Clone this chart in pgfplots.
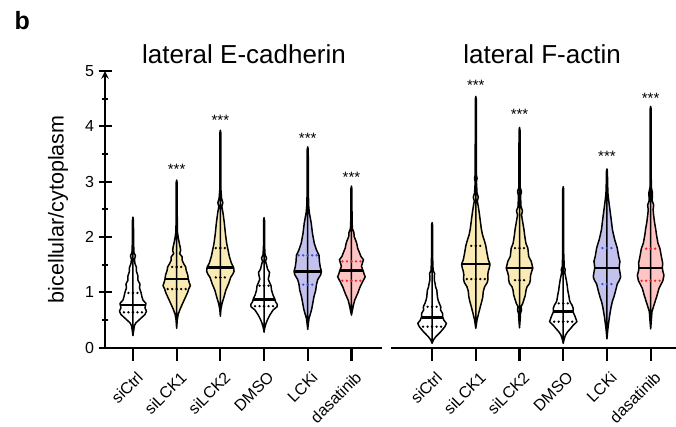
\documentclass[border=0pt]{standalone}
\usepackage{pgfplots}
\pgfplotsset{compat=1.18}
\usepackage{pgfplotstable}
\usepgfplotslibrary{fillbetween}
\usepackage{fontspec}
\setmainfont{Liberation Sans}
\definecolor{vyel}{HTML}{FAEBB4}
\definecolor{vlav}{HTML}{C2C2EC}
\definecolor{vpink}{HTML}{FFC4C4}
\definecolor{dblue}{HTML}{3A4FD0}
\definecolor{dred}{HTML}{E82828}

% ---- left panel: lateral E-cadherin (v = value, w = half width in px)
\pgfplotstableread{
v w
0.22 0
0.30 0.6
0.40 1.5
0.45 3
0.50 6
0.55 9
0.60 12
0.66 13.5
0.72 12
0.76 12.5
0.80 13
0.86 10
0.92 9
1.00 8
1.08 6.5
1.15 7
1.22 5
1.30 5
1.38 3.5
1.45 3.5
1.52 2
1.60 1.5
1.66 2.5
1.72 1
1.90 0.6
2.30 0.5
2.36 0
}\LA
\pgfplotstableread{
v w
0.35 0
0.50 0.6
0.60 1.5
0.70 3.5
0.80 6
0.90 8.5
1.00 11
1.06 12
1.12 13.7
1.18 12.5
1.24 11.7
1.32 11
1.40 9.5
1.46 9
1.52 7
1.58 5.5
1.64 5.5
1.70 3
1.76 4
1.82 3.5
1.90 2.5
2.00 1.5
2.10 0.7
2.60 0.5
2.98 0.5
3.03 0
}\LB
\pgfplotstableread{
v w
0.57 0
0.70 0.6
0.80 1.7
0.92 3.7
1.04 5.5
1.16 8.3
1.27 10.3
1.33 12.5
1.38 13.7
1.45 13.3
1.53 11
1.65 9
1.80 7.3
1.89 6.3
2.07 5
2.25 4
2.43 2.7
2.55 1.5
2.62 2.5
2.70 1.2
2.85 0.6
3.88 0.5
3.93 0
}\LC
\pgfplotstableread{
v w
0.28 0
0.36 0.7
0.44 2
0.50 3.3
0.59 5.8
0.68 9
0.74 13
0.78 13.3
0.83 11.5
0.88 10.8
0.95 9
1.04 7.5
1.12 7
1.18 5.5
1.24 4.2
1.30 5
1.36 5.5
1.42 3.5
1.50 2.5
1.56 1.5
1.62 2.5
1.68 1
1.85 0.5
2.30 0.5
2.35 0
}\LD
\pgfplotstableread{
v w
0.33 0
0.45 0.7
0.53 1.3
0.62 2.8
0.70 4
0.77 4.7
0.85 5.5
0.92 6.2
1.04 8
1.14 8.7
1.23 10
1.32 13
1.38 13.7
1.46 12.5
1.56 11.7
1.67 11.3
1.77 8.7
1.89 6.5
2.07 4.7
2.25 3.5
2.37 2.3
2.45 1.5
2.55 1
2.80 0.6
3.58 0.5
3.63 0
}\LE
\pgfplotstableread{
v w
0.59 0
0.68 1
0.77 2
0.86 3.3
0.98 6.2
1.10 8.7
1.21 11.7
1.28 13.8
1.34 12.5
1.39 11.7
1.47 10
1.53 11
1.59 12
1.65 9.5
1.72 8
1.80 6.2
1.87 5.5
1.92 4.7
2.01 2.7
2.08 2.5
2.15 1
2.30 0.6
2.87 0.5
2.92 0
}\LF
\pgfplotstableread{
x y w
0 0.77 12.5
1 1.24 11.7
2 1.45 13.3
3 0.87 10.8
4 1.38 13.7
5 1.39 11.7
}\medL
\pgfplotstableread{
x y w
0 0.64 11
0 0.99 6
1 1.06 10
1 1.46 7
2 1.27 8.3
2 1.80 5.3
3 0.75 11
3 1.12 5
}\qkL
\pgfplotstableread{
x y w
4 1.14 6.7
4 1.67 9.3
}\qbL
\pgfplotstableread{
x y w
5 1.21 9.7
5 1.56 9.5
}\qrL

% ---- right panel: lateral F-actin
\pgfplotstableread{
v w
0.08 0
0.14 1.3
0.20 3.8
0.29 8.7
0.38 12.8
0.44 14.3
0.50 11.7
0.56 10.5
0.62 10.5
0.68 8.5
0.74 8.7
0.80 7.2
0.86 6
0.92 5.3
0.98 5
1.04 4.7
1.10 3.5
1.16 3
1.22 2.2
1.28 2.2
1.34 2.5
1.40 1
1.60 0.6
2.21 0.5
2.26 0
}\RA
\pgfplotstableread{
v w
0.35 0
0.50 1.2
0.62 2.8
0.74 4.5
0.84 6
0.92 7
1.02 7.5
1.10 8.8
1.18 11.5
1.24 12.2
1.32 12
1.38 12.5
1.44 13.5
1.51 14.2
1.59 12.5
1.71 11.2
1.84 10
1.92 8.8
2.04 6.7
2.15 5.5
2.25 4.8
2.43 3.5
2.55 2.5
2.65 1.5
2.72 2.5
2.80 1.2
3.00 0.6
3.06 1.3
3.12 0.6
4.49 0.5
4.54 0
}\RB
\pgfplotstableread{
v w
0.36 0
0.50 0.6
0.62 1
0.68 2
0.74 1.5
0.80 3.2
0.95 5.8
1.04 6.5
1.10 7.5
1.16 10
1.22 10.8
1.30 11
1.35 11.7
1.44 13.3
1.50 12.5
1.56 11.7
1.65 9.2
1.72 8.8
1.80 8.3
1.88 6.5
1.95 5.8
2.05 5
2.13 4.5
2.31 2.8
2.40 2
2.47 3
2.55 1.5
2.75 1
2.82 2
2.90 0.6
3.93 0.5
3.98 0
}\RC
\pgfplotstableread{
v w
0.08 0
0.16 1
0.23 2.3
0.29 4.5
0.35 7.5
0.40 9.7
0.47 13.7
0.53 12.5
0.58 11.5
0.65 9.7
0.71 10
0.77 8.8
0.82 7
0.86 6.3
0.95 5.5
1.04 4.5
1.12 4
1.23 3
1.30 2.2
1.36 1.5
1.41 2
1.46 1
1.70 0.5
2.86 0.5
2.91 0
}\RD
\pgfplotstableread{
v w
0.16 0
0.30 0.7
0.38 1.2
0.56 2.5
0.74 4.2
0.84 5.5
0.92 7
1.04 8.8
1.15 10.3
1.22 12.5
1.28 13.7
1.36 13
1.44 12.2
1.50 12.5
1.56 13
1.65 11.7
1.80 10.3
1.88 9
1.95 7.8
2.05 6.5
2.13 5.5
2.31 4.3
2.49 3
2.67 1.7
2.79 1
3.00 0.6
3.18 0.5
3.23 0
}\RE
\pgfplotstableread{
v w
0.34 0
0.50 0.7
0.65 1.3
0.77 3.3
0.92 6
1.07 8.3
1.15 10.5
1.21 12.2
1.31 13.3
1.38 12.2
1.44 11.7
1.53 12
1.65 10.7
1.72 10
1.79 9.3
1.89 7.3
2.04 5.8
2.15 5
2.25 4
2.43 2.7
2.50 2.5
2.58 3
2.66 1.5
2.80 1.8
2.90 0.6
4.31 0.5
4.36 0
}\RF
\pgfplotstableread{
x y w
0 0.55 10.5
1 1.51 14.2
2 1.44 13.3
3 0.65 9.7
4 1.44 12.2
5 1.44 11.7
}\medR
\pgfplotstableread{
x y w
0 0.38 10.8
0 0.74 6.7
1 1.24 10.2
1 1.84 8
2 1.22 8.8
2 1.80 6.3
3 0.47 11.7
3 0.80 5.5
}\qkR
\pgfplotstableread{
x y w
4 1.15 8.3
4 1.80 8.3
}\qbR
\pgfplotstableread{
x y w
5 1.21 10.2
5 1.79 7.3
}\qrR

\newcommand{\violin}[4]{%
  \addplot[draw=none, forget plot, name path=#1r] table[x expr=#2+\thisrow{w}/43.7, y=v]{#3};
  \addplot[draw=none, forget plot, name path=#1l] table[x expr=#2-\thisrow{w}/43.7, y=v]{#3};
  \addplot[fill=#4, draw=black, line width=1.5pt, line join=round] fill between[of=#1r and #1l];
}
\newcommand{\hbars}[2]{%
  \addplot[draw=none, mark=none, forget plot,
    error bars/.cd, x dir=both, x explicit, error mark=none,
    error bar style={#2}]
    table[x=x, y=y, x error expr=\thisrow{w}/43.7]{#1};
}
\tikzset{
  medline/.style={draw=black, line width=2.6pt},
  qline/.style={draw=#1, line width=2.6pt, line cap=round, dash pattern=on 0pt off 4.5pt},
}
\pgfplotsset{
  violinaxis/.style={
    scale only axis, height=276.7pt,
    ymin=0, ymax=5, clip=false,
    axis x line=bottom,
    axis line style={-, line width=2.4pt, black},
    every outer x axis line/.append style={-},
    every outer y axis line/.append style={-},
    xtick={0,...,5},
    xticklabels={siCtrl,siLCK1,siLCK2,DMSO,LCKi,dasatinib},
    tick align=outside,
    major tick length=13pt, minor tick length=6.5pt,
    tick style={line width=2.2pt, black},
    y tick label style={font=\fontsize{16}{19}\selectfont},
    yticklabel shift=1pt,
    x tick label style={font=\fontsize{16}{19}\selectfont, rotate=45, anchor=north east, inner sep=1pt, xshift=4pt},
    xticklabel shift=11pt,
    /pgf/number format/assume math mode=true,
  },
}

\begin{document}
\begin{tikzpicture}
\begin{axis}[violinaxis, at={(0,0)}, width=277pt,
  xmin=-0.64, xmax=5.70,
  axis y line=left,
  ytick={0,1,2,3,4,5},
  minor ytick={0.5,1.5,2.5,3.5,4.5},
]
\violin{la}{0}{\LA}{white}
\violin{lb}{1}{\LB}{vyel}
\violin{lc}{2}{\LC}{vyel}
\violin{ld}{3}{\LD}{white}
\violin{le}{4}{\LE}{vlav}
\violin{lf}{5}{\LF}{vpink}
\hbars{\qkL}{qline=black}
\hbars{\qbL}{qline=dblue}
\hbars{\qrL}{qline=dred}
\hbars{\medL}{medline}
\node[anchor=base, font=\fontsize{15}{18}\selectfont] at (axis cs:1,3.13) {***};
\node[anchor=base, font=\fontsize{15}{18}\selectfont] at (axis cs:2,4.01) {***};
\node[anchor=base, font=\fontsize{15}{18}\selectfont] at (axis cs:4,3.69) {***};
\node[anchor=base, font=\fontsize{15}{18}\selectfont] at (axis cs:5,2.98) {***};
\node[anchor=base, font=\fontsize{26}{30}\selectfont, yshift=8pt] at (rel axis cs:0.502,1) {lateral E-cadherin};
\node[rotate=90, font=\fontsize{21.5}{25}\selectfont] at ([xshift=-47pt]rel axis cs:0,0.5) {bicellular/cytoplasm};
\end{axis}

\begin{axis}[violinaxis, at={(286pt,0)}, width=285pt,
  xmin=-0.94, xmax=5.58,
  axis y line=none, ytick=\empty,
]
\violin{ra}{0}{\RA}{white}
\violin{rb}{1}{\RB}{vyel}
\violin{rc}{2}{\RC}{vyel}
\violin{rd}{3}{\RD}{white}
\violin{re}{4}{\RE}{vlav}
\violin{rf}{5}{\RF}{vpink}
\hbars{\qkR}{qline=black}
\hbars{\qbR}{qline=dblue}
\hbars{\qrR}{qline=dred}
\hbars{\medR}{medline}
\node[anchor=base, font=\fontsize{15}{18}\selectfont] at (axis cs:1,4.65) {***};
\node[anchor=base, font=\fontsize{15}{18}\selectfont] at (axis cs:2,4.12) {***};
\node[anchor=base, font=\fontsize{15}{18}\selectfont] at (axis cs:4,3.36) {***};
\node[anchor=base, font=\fontsize{15}{18}\selectfont] at (axis cs:5,4.41) {***};
\node[anchor=base, font=\fontsize{26}{30}\selectfont, yshift=8pt] at (rel axis cs:0.53,1) {lateral F-actin};
\end{axis}

\node[anchor=base west, font=\bfseries\fontsize{25}{30}\selectfont] at (-94pt,317.7pt) {b};
\pgfresetboundingbox
\useasboundingbox (-105pt,-78.3pt) rectangle (571pt,347.7pt);
\end{tikzpicture}
\end{document}
